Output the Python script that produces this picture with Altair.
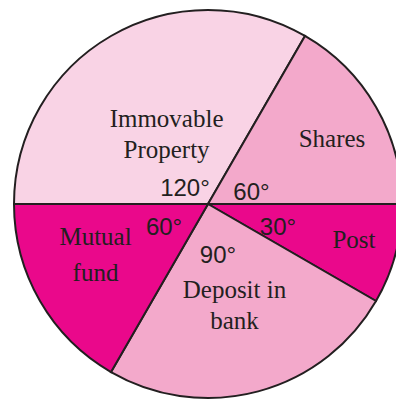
import altair as alt
import pandas as pd

# Investment pie: each slice is given in degrees of the full circle
categories = ["Immovable\nProperty", "Shares", "Post", "Deposit in\nbank", "Mutual\nfund"]
degrees = [120, 60, 30, 90, 60]
fills = ["#f9d3e5", "#f3a9cb", "#ea088b", "#f3a9cb", "#ea088b"]

# Layout of the pie and of its labels
CX, CY, R = 208, 204, 194
START = 1.5 * 3.141592653589793          # first slice begins at 9 o'clock
TWO_PI = 2 * 3.141592653589793
INK = "#231f20"
# (angle nudge from slice middle in degrees, distance from centre in px)
degree_label_layout = [(-26.5, 27.6), (15.6, 44.9), (3.8, 73.9), (4.1, 52.8), (1.6, 50.0)]
# name labels are anchored at the baseline of their first line
name_label_layout = [(1.8, 87.7), (5.3, 136.5), (1.8, 152.5), (-0.8, 97.2), (10.0, 119.7)]
name_line_height = [31.5, 31.5, 31.5, 31.5, 36.0]

ends = pd.Series(degrees).cumsum()
mids = ends - pd.Series(degrees) / 2

slices = pd.DataFrame({
    "category": categories,
    "degrees": degrees,
    "fill": fills,
    "order": list(range(len(categories))),
    "deg_text": [f"{d}°" for d in degrees],
    "deg_angle": [m + a for m, (a, _) in zip(mids, degree_label_layout)],
    "deg_r": [r for _, r in degree_label_layout],
    "name_angle": [m + a for m, (a, _) in zip(mids, name_label_layout)],
    "name_r": [r for _, r in name_label_layout],
    "lh": name_line_height,
})

theta_scale = alt.Scale(domain=[0, 360], range=[START, START + TWO_PI])
base = alt.Chart(slices)

pie = base.mark_arc(radius=R, stroke=INK, strokeWidth=2).encode(
    theta=alt.Theta("degrees:Q", stack=True, scale=theta_scale),
    order=alt.Order("order:Q"),
    color=alt.Color("fill:N", scale=None),
    x=alt.value(CX),
    y=alt.value(CY),
)

degree_labels = base.mark_text(
    font="Liberation Sans", fontSize=24, color=INK, align="center", baseline="middle"
).encode(
    theta=alt.Theta("deg_angle:Q", stack=None, scale=theta_scale),
    radius=alt.Radius("deg_r:Q", scale=None),
    text="deg_text:N",
    x=alt.value(CX),
    y=alt.value(CY),
)


def name_layer(line_height):
    return base.transform_filter(alt.datum.lh == line_height).mark_text(
        font="Liberation Serif", fontSize=25, color=INK, align="center",
        baseline="alphabetic", lineBreak="\n", lineHeight=line_height
    ).encode(
        theta=alt.Theta("name_angle:Q", stack=None, scale=theta_scale),
        radius=alt.Radius("name_r:Q", scale=None),
        text="category:N",
        x=alt.value(CX),
        y=alt.value(CY),
    )


name_labels = [name_layer(h) for h in sorted(set(name_line_height))]

chart = alt.layer(pie, degree_labels, *name_labels).properties(
    width=396, height=400, autosize=alt.AutoSizeParams(type="none"), padding=0,
    background="white",
).configure_view(stroke=None)

chart.save("out.html", embed_options={"renderer": "svg", "actions": False})
